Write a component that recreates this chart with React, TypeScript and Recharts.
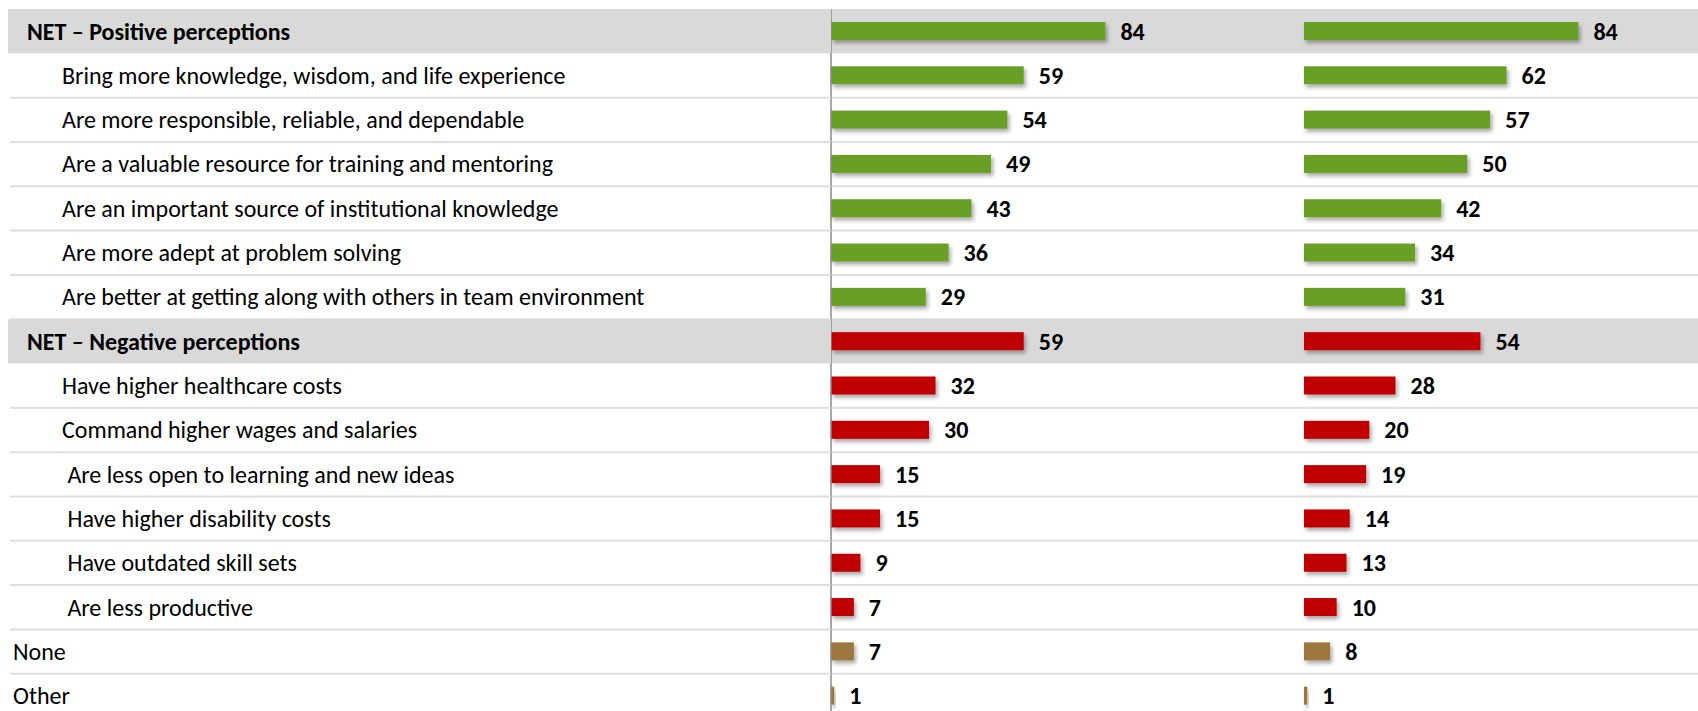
import { BarChart, Bar, XAxis, YAxis, ReferenceArea, LabelList, Cell } from "recharts";

const LABELS = [
  "NET – Positive perceptions",
  "Bring more knowledge, wisdom, and life experience",
  "Are more responsible, reliable, and dependable",
  "Are a valuable resource for training and mentoring",
  "Are an important source of institutional knowledge",
  "Are more adept at problem solving",
  "Are better at getting along with others in team environment",
  "NET – Negative perceptions",
  "Have higher healthcare costs",
  "Command higher wages and salaries",
  " Are less open to learning and new ideas",
  " Have higher disability costs",
  " Have outdated skill sets",
  " Are less productive",
  "None",
  "Other",
];

// net = shaded heading row, item = indented sub-row, plain = flush-left row
const KINDS = ["net", "item", "item", "item", "item", "item", "item", "net", "item", "item", "item", "item", "item", "item", "plain", "plain"];
const GROUPS = ["pos", "pos", "pos", "pos", "pos", "pos", "pos", "neg", "neg", "neg", "neg", "neg", "neg", "neg", "other", "other"];

const SERIES_A = [84, 59, 54, 49, 43, 36, 29, 59, 32, 30, 15, 15, 9, 7, 7, 1];
const SERIES_B = [84, 62, 57, 50, 42, 34, 31, 54, 28, 20, 19, 14, 13, 10, 8, 1];

const COLORS: Record<string, string> = { pos: "#6A9F28", neg: "#C00000", other: "#9C763C" };

const rows = LABELS.map((label, i) => ({
  label,
  kind: KINDS[i],
  group: GROUPS[i],
  a: SERIES_A[i],
  b: SERIES_B[i],
}));

const FONT = "Carlito, Lato, 'Open Sans', sans-serif";
const CHART_H = 718;
const TOP = 9;
const ROW_H = (CHART_H - TOP) / rows.length;
const BAND = "#D9D9D9";
const SEP = "#DEDEDE";
const AXIS = "#8A8A8A";

function LabelTick(props: any) {
  const { y, payload } = props;
  const idx = props.index ?? payload.index ?? 0;
  const row = rows[idx];
  const textX = row.kind === "net" ? 27 : row.kind === "item" ? 62 : 13;
  const isNet = row.kind === "net";
  return (
    <g>
      {isNet ? (
        <rect x={8} y={y - ROW_H / 2} width={823} height={ROW_H} fill={BAND} />
      ) : (
        <line x1={10} x2={831} y1={y + ROW_H / 2} y2={y + ROW_H / 2} stroke={SEP} strokeWidth={2} />
      )}
      <text
        x={textX}
        y={y}
        dy="0.35em"
        xmlSpace="preserve"
        style={{ whiteSpace: "pre" }}
        fontFamily={FONT}
        fontSize={24}
        fontWeight={isNet ? 700 : 400}
        fill="#000"
      >
        {payload.value}
      </text>
    </g>
  );
}

function RowShape(kind: string) {
  return (p: any) => {
    const { x, y, width, height } = p;
    if (kind === "net") return <rect x={x} y={y} width={width} height={height} fill={BAND} />;
    return <line x1={x} x2={x + width} y1={y + height} y2={y + height} stroke={SEP} strokeWidth={2} />;
  };
}

const ShadowBar = (p: any) => (
  <rect x={p.x} y={p.y} width={Math.max(p.width, 0)} height={p.height} fill={p.fill} filter="url(#barShadow)" />
);

function Panel({ dataKey, width, left, yWidth, max, showLabels }: any) {
  return (
    <div style={{ position: "absolute", left, top: 0 }}>
      <BarChart
        width={width}
        height={CHART_H}
        data={rows}
        layout="vertical"
        margin={{ top: TOP, right: 0, bottom: 0, left: showLabels ? 0 : 10 }}
      >
        {rows.map((r) => (
          <ReferenceArea key={r.label} y1={r.label} y2={r.label} ifOverflow="visible" shape={RowShape(r.kind)} />
        ))}
        <Bar dataKey={dataKey} barSize={18} isAnimationActive={false} shape={ShadowBar}>
          {rows.map((r) => (
            <Cell key={r.label} fill={COLORS[r.group]} />
          ))}
          <LabelList
            dataKey={dataKey}
            position="right"
            offset={15}
            fill="#000"
            fontFamily={FONT}
            fontSize={24}
            fontWeight={700}
          />
        </Bar>
        <XAxis type="number" domain={[0, max]} hide />
        <YAxis
          type="category"
          dataKey="label"
          width={yWidth}
          interval={0}
          tickLine={false}
          axisLine={{ stroke: AXIS, strokeWidth: 1.5 }}
          tick={showLabels ? <LabelTick /> : false}
        />
      </BarChart>
    </div>
  );
}

export default function App() {
  return (
    <div style={{ position: "absolute", left: 0, top: 0, width: 1698, height: 711, overflow: "hidden", background: "#fff" }}>
      <svg width={0} height={0} style={{ position: "absolute" }}>
        <defs>
          <filter id="barShadow" x="-20%" y="-40%" width="150%" height="220%">
            <feDropShadow dx={2} dy={3} stdDeviation={2} floodColor="#000" floodOpacity={0.35} />
          </filter>
        </defs>
      </svg>
      <Panel dataKey="a" width={1304} left={0} yWidth={831} max={144.8} showLabels />
      <Panel dataKey="b" width={404} left={1294} yWidth={0} max={120.6} showLabels={false} />
    </div>
  );
}
